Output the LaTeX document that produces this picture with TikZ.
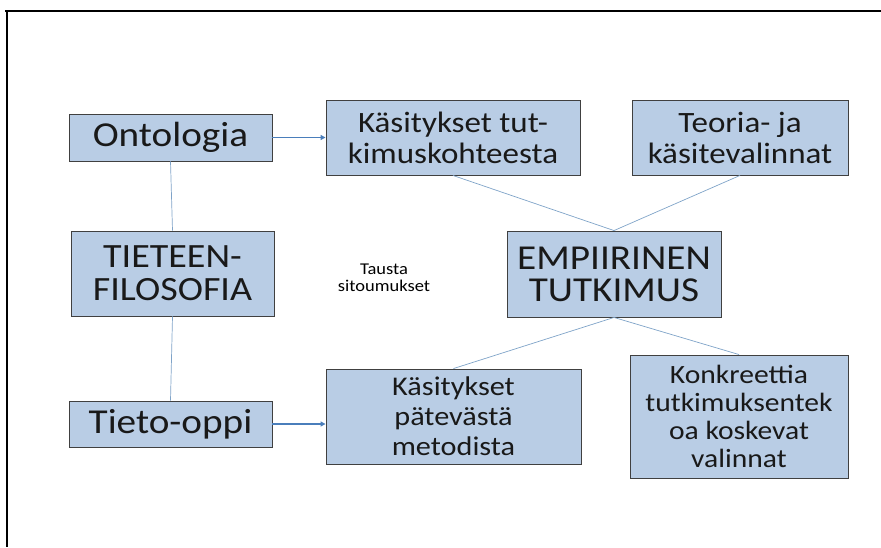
\documentclass[tikz,border=0pt]{standalone}
\usepackage{fontspec}
\setmainfont[FakeStretch=1.12]{Carlito}
\usetikzlibrary{arrows.meta}
\definecolor{boxfill}{HTML}{B9CDE5}
\definecolor{boxline}{HTML}{404040}
\definecolor{linkblue}{HTML}{7FA3C8}
\definecolor{arrowblue}{HTML}{4A7EBB}
\tikzset{
  box/.style={draw=boxline, fill=boxfill, line width=0.9pt, inner sep=0pt,
    align=center, text=black!90},
  link/.style={draw=linkblue, line width=0.7pt},
  push/.style={draw=arrowblue, line width=1.6pt,
    -{Triangle[length=5pt,width=5pt]}},
}
% size and baseline distance, both in pt
\newcommand{\fsz}[2]{\fontsize{#1}{#2}\selectfont}
\begin{document}
\begin{tikzpicture}[x=1pt,y=-1pt]
  \useasboundingbox (0,0) rectangle (881,547);
  % frame along the top and left edges
  \draw[line width=2pt] (5,11) -- (881,11);
  \draw[line width=2pt] (7,11) -- (7,547);

  % philosophy column
  \node[box, minimum width=203pt, minimum height=47pt, font=\fsz{35}{38}]
    (onto) at (170.5,137.5) {Ontologia};
  \node[box, minimum width=203pt, minimum height=85pt, font=\fsz{34}{33}]
    (tf) at (172.5,273.5) {TIETEEN-\\FILOSOFIA};
  \node[box, minimum width=203pt, minimum height=46pt, font=\fsz{35}{38}]
    (tieto) at (170.5,424) {Tieto-oppi};

  % conceptions
  \node[box, minimum width=254pt, minimum height=75pt, font=\fsz{29.5}{31}]
    (kas1) at (453,137.5) {Käsitykset tut-\\kimuskohteesta};
  \node[box, minimum width=255pt, minimum height=95pt, font=\fsz{27}{30}]
    (kas2) at (453.5,416.5) {Käsitykset\\pätevästä\\metodista};

  % empirical side
  \node[box, minimum width=216pt, minimum height=75pt, font=\fsz{29.5}{31}]
    (teo) at (740,137.5) {Teoria- ja\\käsitevalinnat};
  \node[box, minimum width=214pt, minimum height=86pt, font=\fsz{35}{32}]
    (emp) at (614,274) {EMPIIRINEN\\TUTKIMUS};
  \node[box, minimum width=218pt, minimum height=123pt, font=\fsz{26.4}{28}]
    (konk) at (739,416.5) {Konkreettia\\tutkimuksentek\\oa koskevat\\valinnat};

  % free label
  \node[align=center, font=\fsz{16.5}{17}, inner sep=0pt] (tausta) at (384,278)
    {Tausta\\sitoumukset};

  % connectors
  \draw[link] (onto.south) -- (tf.north);
  \draw[link] (tf.south) -- (tieto.north);
  \draw[link] (kas1.south) -- (emp.north);
  \draw[link] (teo.south) -- (emp.north);
  \draw[link] (emp.south) -- (kas2.north);
  \draw[link] (emp.south) -- (konk.north);
  \draw[push] (onto.east) -- (kas1.west);
  \draw[push] (tieto.east) -- (kas2.west |- tieto.east);
\end{tikzpicture}
\end{document}
